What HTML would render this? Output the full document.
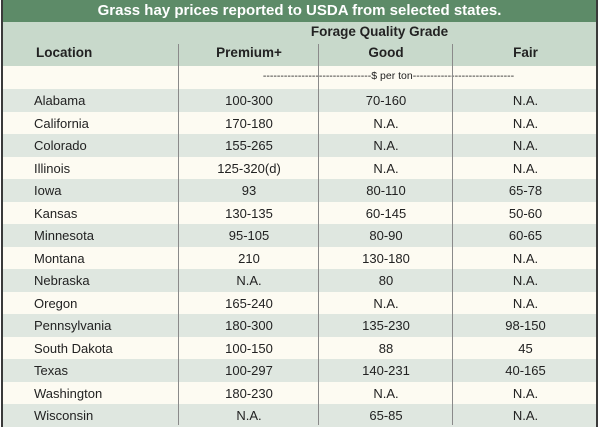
<!DOCTYPE html>
<html><head><meta charset="utf-8"><style>
html,body{margin:0;padding:0;background:#fff;width:600px;height:434px;overflow:hidden;font-family:"Liberation Sans",sans-serif;}
#wrap{position:absolute;left:1px;top:0;width:597px;height:427px;border:2px solid #3a3a3a;border-top:none;box-sizing:border-box;background:#fdfbf2;}
.title{position:absolute;left:0;top:0;width:100%;height:22px;background:#5d8b68;color:#fff;font-weight:bold;font-size:15px;text-align:center;line-height:22px;}
.hdr{position:absolute;left:0;top:22px;width:100%;height:44px;background:#c8d9cb;}
.t{position:absolute;font-size:13px;color:#222;white-space:nowrap;}
.b{font-weight:bold;font-size:13.5px;}
.row{position:absolute;left:0;width:100%;height:22.5px;}
.vl{position:absolute;width:1px;background:#8a8a8a;}
</style></head><body>
<div id="wrap">
<div class="title">Grass hay prices reported to USDA from selected states.</div>
<div class="hdr"></div>
<div class="t b" style="left:0;width:100%;text-align:center;top:24px;padding-left:160px;box-sizing:border-box;">Forage Quality Grade</div>
<div class="t b" style="left:33px;top:45px">Location</div>
<div class="t b" style="left:176px;width:140px;text-align:center;top:45px">Premium+</div>
<div class="t b" style="left:316px;width:134px;text-align:center;top:45px">Good</div>
<div class="t b" style="left:450px;width:145px;text-align:center;top:45px">Fair</div>
<div class="t" style="left:176px;width:419px;text-align:center;top:70px;font-size:10.5px;letter-spacing:0">-------------------------------$ per ton-----------------------------</div>
<div id="rows"></div>
<div class="vl" style="left:175px;top:44px;height:381px"></div>
<div class="vl" style="left:315px;top:44px;height:381px"></div>
<div class="vl" style="left:449px;top:44px;height:381px"></div>
</div>
<script>
const locations=["Alabama","California","Colorado","Illinois","Iowa","Kansas","Minnesota","Montana","Nebraska","Oregon","Pennsylvania","South Dakota","Texas","Washington","Wisconsin"];
const premium=["100-300","170-180","155-265","125-320(d)","93","130-135","95-105","210","N.A.","165-240","180-300","100-150","100-297","180-230","N.A."];
const good=["70-160","N.A.","N.A.","N.A.","80-110","60-145","80-90","130-180","80","N.A.","135-230","88","140-231","N.A.","65-85"];
const fair=["N.A.","N.A.","N.A.","N.A.","65-78","50-60","60-65","N.A.","N.A.","N.A.","98-150","45","40-165","N.A.","N.A."];
const rows=document.getElementById('rows');
locations.forEach((loc,i)=>{
  const r=document.createElement('div');
  r.className='row';
  r.style.top=(89+i*22.5)+'px';
  r.style.background=i%2===0?'#dfe7e0':'#fdfbf2';
  
  
  const cells=[[loc,31,140,'left'],[premium[i],176,140,'center'],[good[i],316,134,'center'],[fair[i],450,145,'center']];
  cells.forEach((c,j)=>{
    const d=document.createElement('div');
    d.className='t';
    d.textContent=c[0];
    d.style.left=c[1]+'px';d.style.width=c[2]+'px';d.style.textAlign=c[3];d.style.top='4px';
    
    
    r.appendChild(d);
  });
  rows.appendChild(r);
});
</script>
</body></html>
